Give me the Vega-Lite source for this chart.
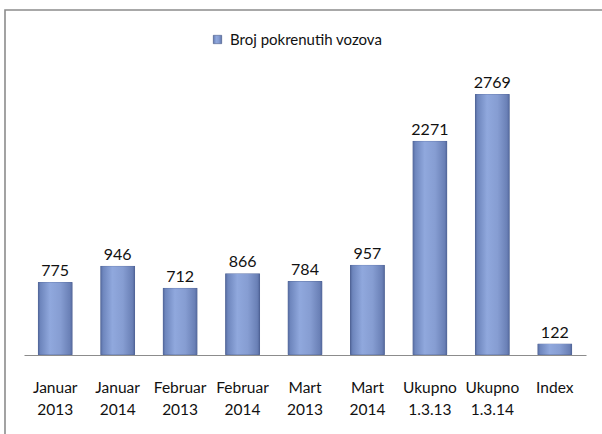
{
  "$schema": "https://vega.github.io/schema/vega-lite/v6.json",
  "width": 600,
  "height": 426,
  "autosize": "none",
  "padding": {"left": 5, "top": 10, "right": 0, "bottom": 0},
  "background": "white",
  "config": {
    "view": {"stroke": "#8c8c8c", "strokeWidth": 1.6},
    "font": "Lato"
  },
  "data": {
    "values": [
      {"cat": "Januar 2013", "value": 775, "series": "Broj pokrenutih vozova"},
      {"cat": "Januar 2014", "value": 946, "series": "Broj pokrenutih vozova"},
      {"cat": "Februar 2013", "value": 712, "series": "Broj pokrenutih vozova"},
      {"cat": "Februar 2014", "value": 866, "series": "Broj pokrenutih vozova"},
      {"cat": "Mart 2013", "value": 784, "series": "Broj pokrenutih vozova"},
      {"cat": "Mart 2014", "value": 957, "series": "Broj pokrenutih vozova"},
      {"cat": "Ukupno 1.3.13", "value": 2271, "series": "Broj pokrenutih vozova"},
      {"cat": "Ukupno 1.3.14", "value": 2769, "series": "Broj pokrenutih vozova"},
      {"cat": "Index", "value": 122, "series": "Broj pokrenutih vozova"}
    ]
  },
  "encoding": {
    "x": {
      "field": "cat",
      "type": "nominal",
      "sort": null,
      "title": null,
      "scale": {"range": [19, 581], "paddingInner": 0.44, "paddingOuter": 0.22},
      "axis": {
        "orient": "bottom",
        "offset": -81,
        "domainColor": "#8c8c8c",
        "domainWidth": 1.2,
        "ticks": false,
        "labelAngle": 0,
        "labelFont": "Lato",
        "labelFontSize": 15.5,
        "labelColor": "#111111",
        "labelPadding": 25,
        "labelLineHeight": 22,
        "labelExpr": "split(datum.label, ' ')"
      }
    },
    "y": {
      "field": "value",
      "type": "quantitative",
      "scale": {"domain": [-859, 3659], "nice": false, "zero": false},
      "axis": null
    }
  },
  "layer": [
    {
      "mark": {
        "type": "bar",
        "strokeWidth": 0.6,
        "cornerRadius": 1,
        "fill": {
          "gradient": "linear",
          "x1": 0, "y1": 0, "x2": 1, "y2": 0,
          "stops": [
            {"offset": 0, "color": "#4f6397"},
            {"offset": 0.08, "color": "#6e86bd"},
            {"offset": 0.35, "color": "#90a8dd"},
            {"offset": 0.65, "color": "#869dd2"},
            {"offset": 0.92, "color": "#6a80b6"},
            {"offset": 1, "color": "#4f6397"}
          ]
        }
      },
      "encoding": {
        "stroke": {
          "field": "series",
          "type": "nominal",
          "title": null,
          "scale": {"range": ["#4a5c8c"]},
          "legend": {
            "orient": "none",
            "legendX": 205,
            "legendY": 22,
            "symbolType": "square",
            "symbolSize": 70,
            "symbolFillColor": "#7b91c4",
            "symbolStrokeWidth": 0.6,
            "labelFont": "Lato",
            "labelFontSize": 15,
            "labelColor": "#111111",
            "labelOffset": 5,
            "padding": 0
          }
        }
      }
    },
    {
      "mark": {"type": "text", "baseline": "alphabetic", "dy": -6, "font": "Lato", "fontSize": 16, "color": "#111111"},
      "encoding": {
        "text": {"field": "value", "type": "quantitative"}
      }
    }
  ]
}
